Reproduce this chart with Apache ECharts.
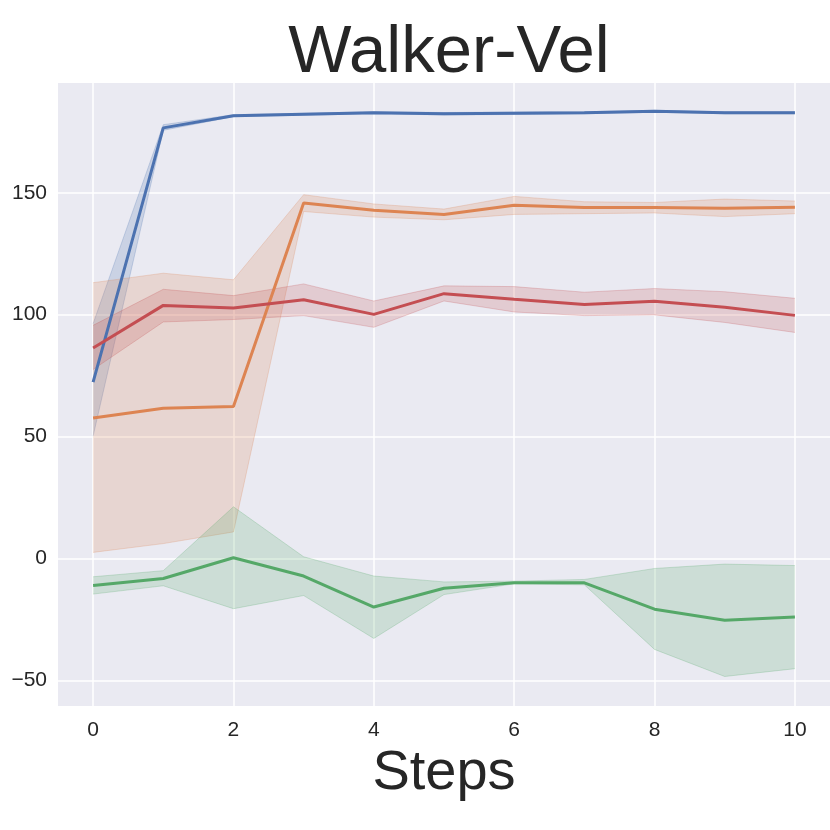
<!DOCTYPE html>
<html>
<head>
<meta charset="utf-8">
<script src="https://cdn.jsdelivr.net/npm/echarts@6/dist/echarts.min.js"></script>
<style>
  html, body { margin: 0; padding: 0; background: #fff; }
  #main { width: 830px; height: 830px; }
</style>
</head>
<body>
<div id="main"></div>
<script>
var steps = [0, 1, 2, 3, 4, 5, 6, 7, 8, 9, 10];

var blueMean = [72.3, 176.6, 181.6, 182.2, 182.8, 182.4, 182.6, 182.8, 183.4, 182.8, 182.8];
var blueLow = [50.2, 175.6, 181.2, 181.8, 182.4, 181.9, 182.1, 182.4, 183.0, 182.4, 182.4];
var blueHigh = [96.3, 177.9, 182.0, 182.6, 183.2, 182.9, 183.1, 183.2, 183.8, 183.2, 183.2];

var orangeMean = [57.6, 61.6, 62.3, 145.8, 142.8, 141.1, 144.9, 143.9, 143.9, 143.6, 144.0];
var orangeLow = [2.5, 6.1, 10.9, 142.3, 140.0, 138.9, 141.1, 141.4, 141.7, 140.2, 141.4];
var orangeHigh = [113.1, 117.0, 114.3, 149.2, 145.4, 143.3, 148.5, 146.3, 146.0, 147.4, 146.6];

var greenMean = [-11.1, -8.2, 0.3, -7.2, -19.9, -12.2, -10.0, -10.0, -20.8, -25.3, -24.0];
var greenLow = [-14.6, -11.2, -20.6, -15.2, -32.8, -14.8, -10.4, -10.8, -37.3, -48.4, -45.2];
var greenHigh = [-7.5, -5.0, 21.2, 0.7, -7.2, -9.6, -9.3, -8.6, -4.1, -2.3, -2.9];

var redMean = [86.3, 103.8, 102.7, 106.1, 100.1, 108.6, 106.3, 104.2, 105.5, 103.0, 99.7];
var redLow = [77.5, 97.0, 98.0, 99.6, 94.8, 105.6, 101.1, 99.6, 99.9, 96.8, 92.7];
var redHigh = [95.6, 110.4, 107.8, 112.6, 105.6, 111.8, 111.5, 109.2, 110.7, 109.4, 106.7];

var xTicks = [0, 2, 4, 6, 8, 10];
var yTicks = [-50, 0, 50, 100, 150];

var groups = [
  { color: '#4c72b0', mean: blueMean, low: blueLow, high: blueHigh },
  { color: '#dd8452', mean: orangeMean, low: orangeLow, high: orangeHigh },
  { color: '#55a868', mean: greenMean, low: greenLow, high: greenHigh },
  { color: '#c44e52', mean: redMean, low: redLow, high: redHigh }
];

// confidence band: one polygon through all points, edges drawn faintly
function bandSeries(g) {
  return {
    type: 'custom',
    silent: true,
    data: steps.map(function (s, i) { return [s, g.low[i], g.high[i]]; }),
    encode: { x: 0, y: [1, 2] },
    renderItem: function (params, api) {
      if (params.dataIndex !== 0) return;
      var top = [], bottom = [];
      for (var i = 0; i < steps.length; i++) {
        top.push(api.coord([steps[i], g.high[i]]));
        bottom.push(api.coord([steps[i], g.low[i]]));
      }
      var poly = top.concat(bottom.slice().reverse());
      return {
        type: 'group',
        children: [
          { type: 'polygon', shape: { points: poly },
            style: { fill: g.color, opacity: 0.2 } },
          { type: 'polyline', shape: { points: top },
            style: { fill: null, stroke: g.color, lineWidth: 1, opacity: 0.25 } },
          { type: 'polyline', shape: { points: bottom },
            style: { fill: null, stroke: g.color, lineWidth: 1, opacity: 0.25 } }
        ]
      };
    }
  };
}

var series = [];
groups.forEach(function (g) {
  series.push({
    type: 'line',
    data: steps.map(function (s, i) { return [s, g.mean[i]]; }),
    showSymbol: false,
    silent: true,
    lineStyle: { color: g.color, width: 3 },
    itemStyle: { color: g.color }
  });
  series.push(bandSeries(g));
});

var font = 'Liberation Sans, Arial, sans-serif';
var myChart = echarts.init(document.getElementById('main'));
var option = {
  backgroundColor: '#ffffff',
  animation: false,
  title: {
    text: 'Walker-Vel',
    left: 444,
    textAlign: 'center',
    top: 15,
    textStyle: { fontSize: 67, fontWeight: 'normal', color: '#262626', fontFamily: font }
  },
  grid: {
    left: 58,
    right: 0,
    top: 83,
    bottom: 124,
    show: true,
    backgroundColor: '#eaeaf2',
    borderWidth: 0
  },
  xAxis: {
    type: 'value',
    min: -0.5,
    max: 10.5,
    name: 'Steps',
    nameLocation: 'middle',
    nameGap: 34,
    nameTextStyle: { fontSize: 56, color: '#262626', fontFamily: font },
    axisLine: { show: false },
    axisTick: { show: false, customValues: xTicks },
    axisLabel: { customValues: xTicks, fontSize: 21, color: '#262626', fontFamily: font, margin: 14 },
    splitLine: { show: true, lineStyle: { color: '#ffffff', width: 1.5 } }
  },
  yAxis: {
    type: 'value',
    min: -60.5,
    max: 195,
    axisLine: { show: false },
    axisTick: { show: false, customValues: yTicks },
    axisLabel: {
      customValues: yTicks,
      fontSize: 21,
      color: '#262626',
      fontFamily: font,
      margin: 11,
      formatter: function (v) { return v < 0 ? '\u2212' + Math.abs(v) : String(v); }
    },
    splitLine: { show: true, lineStyle: { color: '#ffffff', width: 1.5 } }
  },
  series: series
};
myChart.setOption(option);
</script>
</body>
</html>
